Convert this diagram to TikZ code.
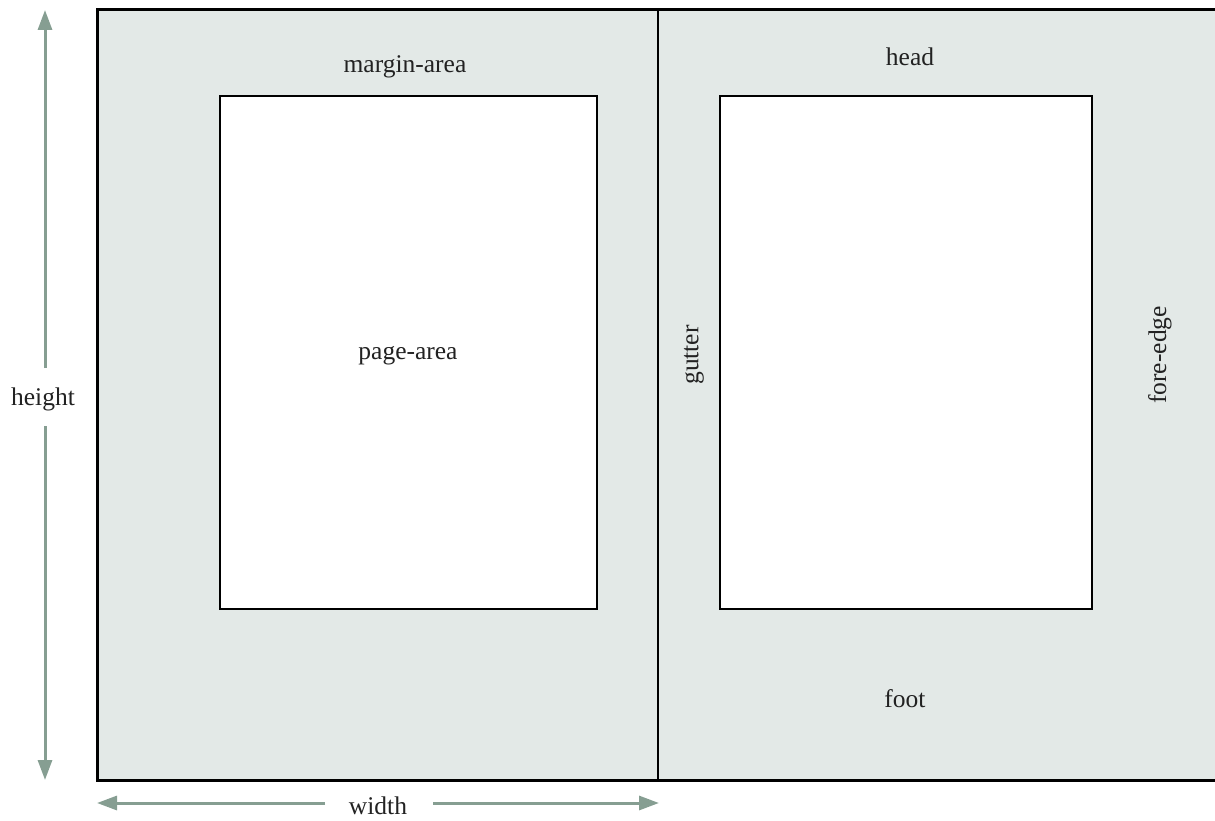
\documentclass[tikz,border=0pt]{standalone}
\usepackage{fontspec}
\setmainfont{Liberation Serif}
\usetikzlibrary{arrows.meta}
\definecolor{paper}{HTML}{E3E9E7}
\definecolor{dim}{HTML}{869E92}
\definecolor{ink}{HTML}{222222}
\tikzset{
  frame/.style={line width=3pt,draw=black},
  pagebox/.style={draw=black,line width=2.5pt,fill=white,outer sep=0pt,inner sep=0pt},
  lbl/.style={text=ink,font=\fontsize{25.5}{28}\selectfont,inner sep=0pt},
  dimarrow/.style={draw=dim,line width=3pt,-{Triangle[width=14pt,length=20pt]}},
}
\begin{document}
\begin{tikzpicture}[x=1pt,y=-1pt]
\useasboundingbox (0,0) rectangle (1215,821);
% sheet
\fill[paper] (97,10) rectangle (1218,780);
\draw[frame] (1218,10) -- (97,10) -- (97,780) -- (1218,780);
\draw[line width=2pt] (658,10) -- (658,780);
% page areas
\node[pagebox,minimum width=377pt,minimum height=513pt,anchor=north west] (pl) at (220,96) {};
\node[pagebox,minimum width=372pt,minimum height=513pt,anchor=north west] (pr) at (720,96) {};
% labels
\node[lbl] (ma) at (405,67) {margin-area};
\node[lbl] (hd) at (910,57) {head};
\node[lbl] (pa) at (408,356) {page-area};
\node[lbl,rotate=90] (gu) at (694,355) {gutter};
\node[lbl,rotate=90] (fe) at (1160,355) {fore-edge};
\node[lbl] (ft) at (905,699) {foot};
% dimensions
\node[lbl] (ht) at (43,399) {height};
\coordinate (htop) at (45,10);
\coordinate (hbot) at (45,780);
\draw[dimarrow] (45,368) -- (htop);
\draw[dimarrow] (45,426) -- (hbot);
\node[lbl] (wd) at (378,806) {width};
\coordinate (wl) at (97,803);
\coordinate (wr) at (659,803);
\draw[dimarrow] (325,803) -- (wl);
\draw[dimarrow] (433,803) -- (wr);
\end{tikzpicture}
\end{document}
